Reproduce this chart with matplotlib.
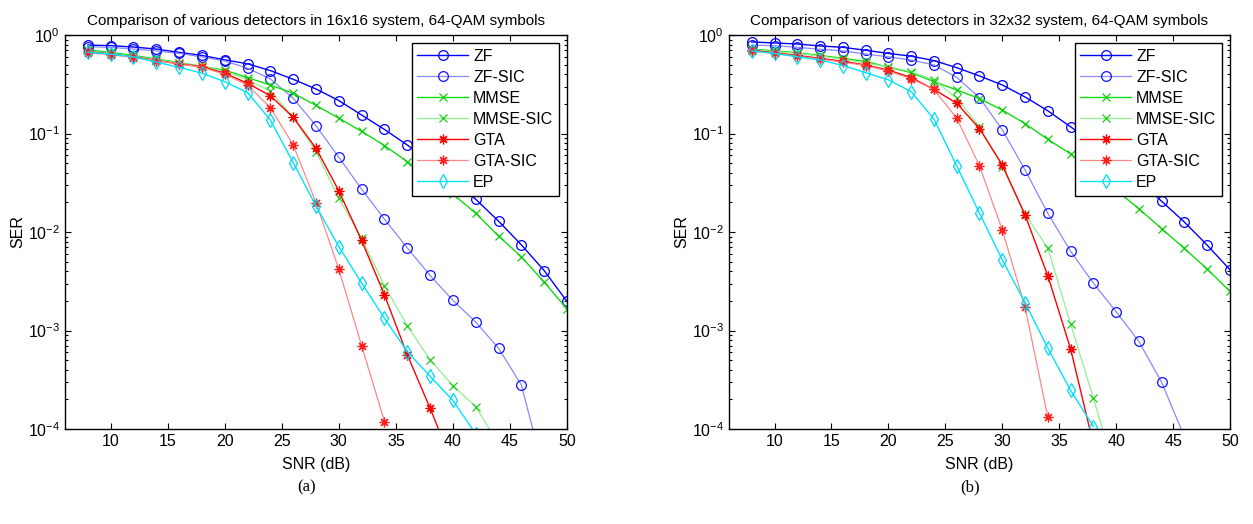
import numpy as np
import matplotlib
matplotlib.use("Agg")
import matplotlib.pyplot as plt
from matplotlib.ticker import LogLocator, FixedLocator, NullLocator

plt.rcParams['font.family'] = ['Liberation Sans', 'DejaVu Sans']
plt.rcParams['mathtext.fontset'] = 'custom'
plt.rcParams['mathtext.rm'] = 'Liberation Sans'

snr = [8, 10, 12, 14, 16, 18, 20, 22, 24, 26, 28, 30, 32, 34, 36, 38, 40, 42, 44, 46, 48, 50]
labels = ["ZF", "ZF-SIC", "MMSE", "MMSE-SIC", "GTA", "GTA-SIC", "EP"]
titles = ["Comparison of various detectors in 16x16 system, 64-QAM symbols",
          "Comparison of various detectors in 32x32 system, 64-QAM symbols"]
captions = ["(a)", "(b)"]

# ---- panel (a): 16x16 ----
a_zf = [0.79, 0.78, 0.755, 0.72, 0.667, 0.62, 0.56, 0.51, 0.435, 0.355, 0.283, 0.216,
        0.154, 0.11, 0.0764, 0.0516, 0.0341, 0.0215, 0.0129, 0.0074, 0.00406, 0.00197]
a_zfsic = [0.76, 0.75, 0.72, 0.69, 0.65, 0.60, 0.545, 0.46, 0.358, 0.228, 0.12, 0.0574,
           0.0272, 0.0135, 0.0069, 0.00362, 0.00202, 0.00122, 0.00066, 0.00028, 3.6e-5]
a_mmse = [0.705, 0.667, 0.62, 0.57, 0.525, 0.48, 0.44, 0.37, 0.31, 0.256, 0.193, 0.143,
          0.105, 0.0755, 0.0518, 0.0355, 0.0242, 0.0155, 0.0091, 0.0056, 0.0031, 0.00165]
a_mmsesic = [0.69, 0.65, 0.61, 0.56, 0.52, 0.48, 0.43, 0.35, 0.27, 0.146, 0.0655, 0.022,
             0.00865, 0.00284, 0.00112, 0.000504, 0.000275, 0.000169, 7e-5]
a_gta = [0.68, 0.64, 0.60, 0.55, 0.51, 0.477, 0.41, 0.323, 0.242, 0.146, 0.0708, 0.0262,
         0.0082, 0.0023, 0.000567, 0.000163, 4.3e-5]
a_gtasic = [0.66, 0.63, 0.59, 0.55, 0.51, 0.47, 0.40, 0.31, 0.183, 0.0766, 0.0199, 0.0042,
            0.0007, 0.000119]
a_ep = [0.67, 0.64, 0.60, 0.53, 0.47, 0.41, 0.336, 0.26, 0.137, 0.0507, 0.0184, 0.00712,
        0.00303, 0.00133, 0.000612, 0.000342, 0.000195, 8.9e-5]

# ---- panel (b): 32x32 ----
b_zf = [0.85, 0.83, 0.81, 0.774, 0.75, 0.70, 0.65, 0.61, 0.55, 0.466, 0.384, 0.311,
        0.235, 0.17, 0.117, 0.0794, 0.0519, 0.0331, 0.0205, 0.0126, 0.00734, 0.00413]
b_zfsic = [0.79, 0.78, 0.75, 0.716, 0.69, 0.64, 0.60, 0.557, 0.496, 0.372, 0.231, 0.109,
           0.0427, 0.0155, 0.00638, 0.00303, 0.00155, 0.000774, 0.000297, 8.3e-5]
b_mmse = [0.72, 0.69, 0.66, 0.62, 0.58, 0.54, 0.47, 0.415, 0.336, 0.277, 0.226, 0.173,
          0.126, 0.0871, 0.0621, 0.0407, 0.0266, 0.0172, 0.0108, 0.0068, 0.0042, 0.00249]
b_mmsesic = [0.71, 0.68, 0.65, 0.61, 0.57, 0.516, 0.477, 0.424, 0.35, 0.228, 0.117, 0.0461,
             0.0152, 0.00685, 0.00117, 0.000206, 3.4e-5]
b_gta = [0.70, 0.66, 0.62, 0.58, 0.54, 0.496, 0.44, 0.37, 0.28, 0.203, 0.112, 0.048,
         0.0149, 0.00359, 0.000652, 7e-5]
b_gtasic = [0.68, 0.65, 0.61, 0.57, 0.53, 0.49, 0.43, 0.36, 0.28, 0.143, 0.0469, 0.0105,
            0.00173, 0.000132]
b_ep = [0.69, 0.65, 0.60, 0.557, 0.49, 0.415, 0.35, 0.266, 0.14, 0.0469, 0.0155, 0.00521,
        0.00192, 0.000662, 0.000247, 0.000106]

panels = [[a_zf, a_zfsic, a_mmse, a_mmsesic, a_gta, a_gtasic, a_ep],
          [b_zf, b_zfsic, b_mmse, b_mmsesic, b_gta, b_gtasic, b_ep]]

# styles: (line colour, marker edge colour, marker, markersize, linewidth)
asterisk = (8, 2, 0)
styles = [
    ('#0000ff', '#0000ff', 'o', 7, 1.0),
    ('#8888ff', '#1010ff', 'o', 7, 0.9),
    ('#10dd10', '#10cc10', 'x', 5.5, 1.0),
    ('#90f090', '#20cc20', 'x', 5.5, 0.9),
    ('#ff0000', '#ff0000', asterisk, 7, 1.0),
    ('#ff8888', '#ff2020', asterisk, 7, 0.9),
    ('#00e5ff', '#00d8f5', 'd', 7, 1.0),
]

W, H = 1253, 524
fig = plt.figure(figsize=(W / 100, H / 100), dpi=100)
fig.patch.set_facecolor('white')

ax_px = [(65, 35, 567, 429), (729, 35, 1230, 429)]
for k in range(2):
    x0, y0, x1, y1 = ax_px[k]
    ax = fig.add_axes([x0 / W, 1 - y1 / H, (x1 - x0) / W, (y1 - y0) / H])
    for vals, lab, (lc, mc, mk, ms, lw) in zip(panels[k], labels, styles):
        ax.semilogy(snr[:len(vals)], vals, color=lc, marker=mk, markersize=ms,
                    markerfacecolor='none', markeredgecolor=mc, markeredgewidth=0.9,
                    linewidth=lw, label=lab)
    ax.set_xlim(6, 50)
    ax.set_ylim(1e-4, 1)
    ax.xaxis.set_major_locator(FixedLocator([10, 15, 20, 25, 30, 35, 40, 45, 50]))
    ax.xaxis.set_minor_locator(NullLocator())
    ax.yaxis.set_major_locator(LogLocator(base=10, numticks=10))
    ax.yaxis.set_minor_locator(LogLocator(base=10, subs=np.arange(2, 10), numticks=10))
    ax.tick_params(which='both', direction='in', top=True, right=True, labelsize=11.5,
                   width=0.8, colors='black')
    ax.tick_params(which='major', length=4)
    ax.tick_params(which='minor', length=2.5)
    for s in ax.spines.values():
        s.set_linewidth(1.0)
    ax.set_title(titles[k], fontsize=11, pad=7)
    ax.set_xlabel("SNR (dB)", fontsize=11.5, labelpad=6)
    ax.set_ylabel("SER", fontsize=11.5, labelpad=2)
    leg = ax.legend(loc='upper right', fontsize=11.5, frameon=True, fancybox=False,
                    edgecolor='black', framealpha=1, handlelength=3.2,
                    handletextpad=0.3, labelspacing=0.38, borderpad=0.35,
                    borderaxespad=0.5)
    leg.get_frame().set_linewidth(1.0)
    fig.text(((x0 + x1) / 2 - 9) / W, 1 - 487 / H, captions[k], fontsize=12,
             family='Liberation Serif', ha='center', va='center')

fig.savefig("out.png", dpi=100, facecolor='white')
